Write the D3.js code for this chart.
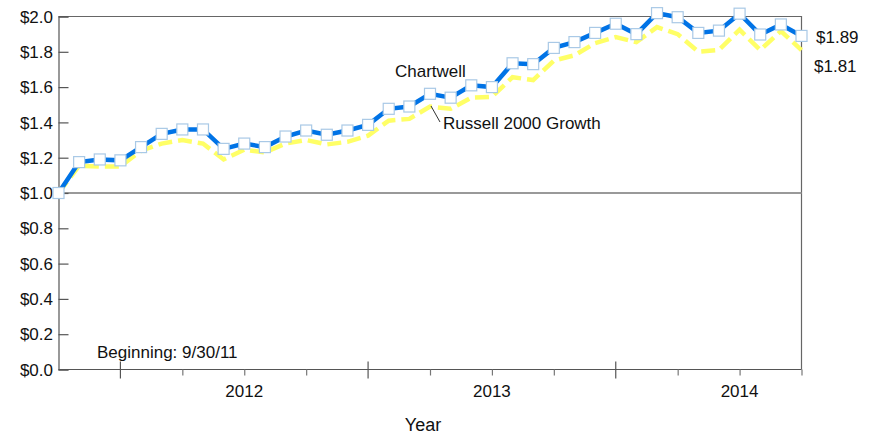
<!DOCTYPE html>
<html><head><meta charset="utf-8">
<script src="https://cdn.jsdelivr.net/npm/d3@7"></script>
<style>
html,body{margin:0;padding:0;background:#fff;}
svg text{font-family:"Liberation Sans",Arial,sans-serif;fill:#111;}
</style></head>
<body><svg id="c" width="882" height="436"></svg>
<script>
// Month index 0 = 9/30/11 ... 36 = 9/30/14 (monthly month-end values of $1 invested)
const months = d3.range(0, 37);
const chartwell = [1.00,1.175,1.19,1.185,1.26,1.335,1.36,1.36,1.25,1.28,1.26,1.32,
  1.354,1.33,1.354,1.386,1.477,1.49,1.562,1.54,1.61,1.60,1.735,1.73,
  1.822,1.855,1.907,1.959,1.90,2.019,1.996,1.907,1.92,2.016,1.898,1.955,1.89];
const russell = [1.00,1.155,1.15,1.15,1.24,1.28,1.30,1.28,1.19,1.245,1.23,1.28,
  1.30,1.275,1.29,1.325,1.41,1.42,1.49,1.477,1.54,1.545,1.656,1.64,
  1.75,1.78,1.849,1.883,1.855,1.94,1.90,1.80,1.81,1.925,1.81,1.917,1.81];
const yTicks = [0,0.2,0.4,0.6,0.8,1.0,1.2,1.4,1.6,1.8,2.0];
const yearLabels = ["2012","2013","2014"];
const yearMid = [9,21,33];
const majorTicks = [3,15,27];
const quarterTicks = [6,9,12,18,21,24,30,33,36];

const svg = d3.select("#c");
const L=58.5, R=801.5, T=16.5, B=369.5;
const x = d3.scaleLinear().domain([0,36]).range([L,R]);
const y = d3.scaleLinear().domain([0,2]).range([B,T]);
const fmt = d => "$" + d.toFixed(1);
const FS = 17;

// frame top/right
svg.append("path").attr("d",`M${L},${T}H${R}V${B}`).attr("fill","none").attr("stroke","#666").attr("stroke-width",1.2);
// reference $1.0 line
svg.append("line").attr("x1",L).attr("x2",R).attr("y1",y(1)).attr("y2",y(1)).attr("stroke","#999").attr("stroke-width",2);

// y axis
const yAxis = svg.append("g").attr("transform",`translate(${L},0)`)
  .call(d3.axisRight(y).tickValues(yTicks).tickFormat("").tickSize(10));
yAxis.select(".domain").attr("stroke","#555").attr("stroke-width",1.2);
yAxis.selectAll(".tick line").attr("stroke","#555").attr("stroke-width",1.2);
svg.append("g").selectAll("text").data(yTicks).join("text")
  .attr("x",53).attr("y",d=>y(d)).attr("dy","0.36em").attr("text-anchor","end")
  .attr("font-size",FS).text(fmt);

// x axis
const xAxis = svg.append("g").attr("transform",`translate(0,${B})`)
  .call(d3.axisBottom(x).tickValues(quarterTicks).tickFormat("").tickSize(6).tickSizeOuter(0));
xAxis.select(".domain").attr("stroke","#555").attr("stroke-width",1.2).attr("d",`M${L},0H${R}`);
xAxis.selectAll(".tick line").attr("stroke","#777").attr("stroke-width",1.2);
svg.append("g").selectAll("line").data(majorTicks).join("line")
  .attr("x1",d=>x(d)).attr("x2",d=>x(d)).attr("y1",B-8).attr("y2",B+9)
  .attr("stroke","#555").attr("stroke-width",1.2);
svg.append("g").selectAll("text").data(yearLabels).join("text")
  .attr("x",(d,i)=>x(yearMid[i])).attr("y",B+27).attr("text-anchor","middle")
  .attr("font-size",FS).text(d=>d);
svg.append("text").attr("x",423).attr("y",431).attr("text-anchor","middle").attr("font-size",18).text("Year");

// series
const line = d3.line().x((d,i)=>x(months[i])).y(d=>y(d));
svg.append("path").datum(russell).attr("d",line).attr("fill","none")
  .attr("stroke","#ffff66").attr("stroke-width",4.5).attr("stroke-dasharray","14,6");
svg.append("path").datum(chartwell).attr("d",line).attr("fill","none")
  .attr("stroke","#0073e6").attr("stroke-width",4.5);
svg.append("g").selectAll("rect").data(chartwell).join("rect")
  .attr("x",(d,i)=>x(months[i])-5.5).attr("y",d=>y(d)-5.5).attr("width",11).attr("height",11)
  .attr("fill","#fff").attr("stroke","#a9c9e6").attr("stroke-width",1.2);

// annotations
svg.append("text").attr("x",395).attr("y",77).attr("font-size",FS).text("Chartwell");
svg.append("line").attr("x1",431).attr("y1",106).attr("x2",440).attr("y2",122).attr("stroke","#333").attr("stroke-width",1);
svg.append("text").attr("x",443).attr("y",129).attr("font-size",FS).text("Russell 2000 Growth");
svg.append("text").attr("x",816).attr("y",43).attr("font-size",FS).text("$" + chartwell[36].toFixed(2));
svg.append("text").attr("x",814).attr("y",72).attr("font-size",FS).text("$" + russell[36].toFixed(2));
svg.append("text").attr("x",97).attr("y",358).attr("font-size",FS).text("Beginning: 9/30/11");
</script></body></html>
